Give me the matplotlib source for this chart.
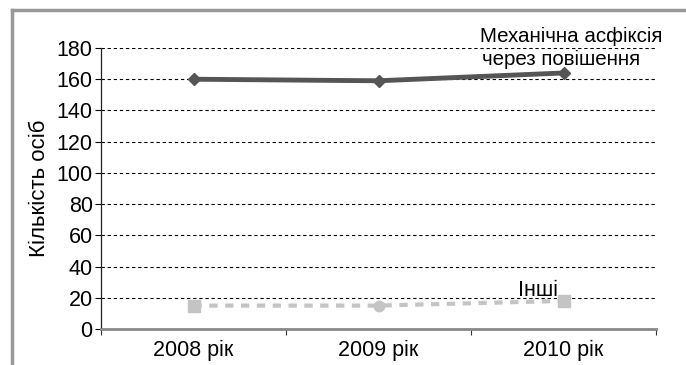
import matplotlib.pyplot as plt
from matplotlib.lines import Line2D
import numpy as np

plt.rcParams['font.family'] = ['Liberation Sans', 'DejaVu Sans']

years = ['2008 рік', '2009 рік', '2010 рік']
hanging = [160, 159, 164]
other = [15, 15, 18]
other_markers = ['s', 'o', 's']
yticks = list(range(0, 181, 20))

fig = plt.figure(figsize=(6.86, 3.65), dpi=100)
ax = fig.add_axes([101 / 686, 1 - 329 / 365, 555 / 686, 281 / 365])

x = np.arange(len(years))

# dashed horizontal guides
for v in yticks[1:]:
    ax.axhline(v, color='black', lw=0.8, ls=(0, (3, 2.5)), zorder=1)

ax.plot(x, hanging, color='#555555', lw=3.5, marker='D', ms=6,
        solid_capstyle='butt', zorder=3)
ax.plot(x, other, color='#c4c4c4', lw=3, ls=(0, (2, 1.8)), zorder=3)
for xi, yi, m in zip(x, other, other_markers):
    ax.plot(xi, yi, marker=m, color='#c4c4c4', ms=8 if m == 's' else 7.5,
            ls='none', zorder=4)

fs = 15.5
ax.set_xlim(-0.5, 2.5)
ax.set_ylim(0, 180)
ax.set_yticks(yticks)
ax.set_xticks(x)
ax.set_xticklabels(years)
ax.set_xticks([-0.5, 0.5, 1.5, 2.5], minor=True)
ax.tick_params(axis='x', which='major', length=0, pad=8, labelsize=fs)
ax.tick_params(axis='x', which='minor', length=4, width=0.8, color='#333333')
ax.tick_params(axis='y', length=4, width=0.8, pad=2, labelsize=fs)

for s in ['top', 'right']:
    ax.spines[s].set_visible(False)
ax.spines['left'].set_color('#222222')
ax.spines['left'].set_linewidth(0.9)
ax.spines['bottom'].set_color('#888888')
ax.spines['bottom'].set_linewidth(2)

ax.set_ylabel('Кількість осіб', fontsize=16, labelpad=5)

# series captions
ax.text(1.55, 184, 'Механічна асфіксія', fontsize=14.8, va='baseline',
        ha='left', clip_on=False)
ax.text(1.56, 169, 'через повішення', fontsize=14.8, va='baseline',
        ha='left', clip_on=False)
ax.text(1.86, 21, 'Інші', fontsize=fs, va='baseline', ha='center')

# grey frame along the top and left edges
fig.add_artist(Line2D([12 / 686, 1], [1 - 10 / 365] * 2, color='#999999', lw=2.5))
fig.add_artist(Line2D([12 / 686] * 2, [0, 1 - 10 / 365], color='#999999', lw=2.5))

fig.savefig('out.png', dpi=100)
